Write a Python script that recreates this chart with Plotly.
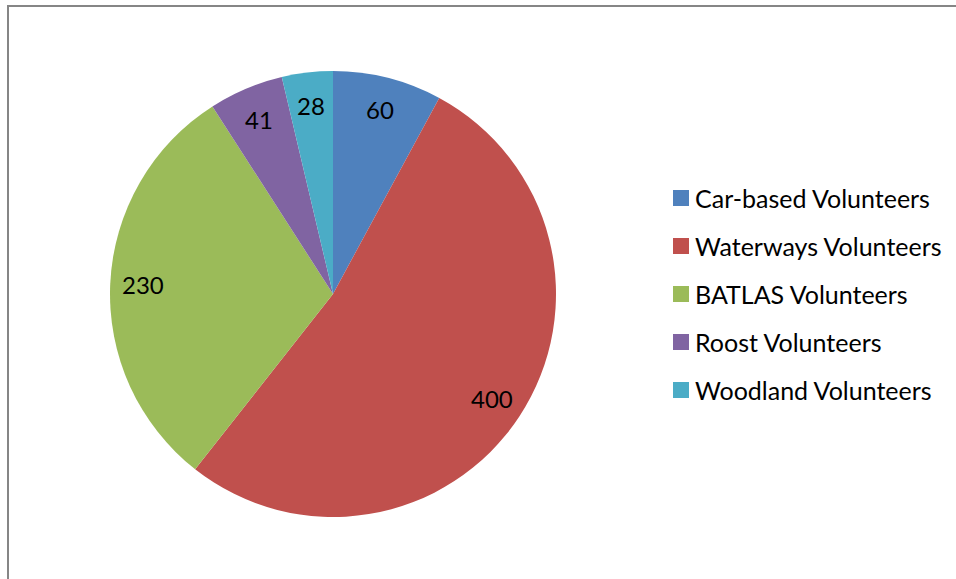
import math
import plotly.graph_objects as go

# Volunteer counts by survey scheme
categories = [
    "Car-based Volunteers",
    "Waterways Volunteers",
    "BATLAS Volunteers",
    "Roost Volunteers",
    "Woodland Volunteers",
]
values = [60, 400, 230, 41, 28]
colors = ["#4F81BD", "#C0504D", "#9BBB59", "#8064A2", "#4BACC6"]

W, H = 956, 579
FONT = "Lato, Carlito, Calibri, sans-serif"

# pie geometry in pixels
cx, cy, r = 333, 294, 223
label_r = 190

fig = go.Figure(
    go.Pie(
        labels=categories,
        values=values,
        marker=dict(colors=colors, line=dict(width=0)),
        sort=False,
        direction="clockwise",
        rotation=0,
        textinfo="none",
        hoverinfo="label+value",
        showlegend=False,
        domain=dict(
            x=[(cx - r) / W, (cx + r) / W],
            y=[1 - (cy + r) / H, 1 - (cy - r) / H],
        ),
    )
)

annotations = []
total = sum(values)
acc = 0
for v in values:
    mid = (acc + v / 2) / total * 2 * math.pi
    acc += v
    px = cx + label_r * math.sin(mid)
    py = cy - label_r * math.cos(mid)
    annotations.append(dict(
        x=px / W, y=1 - py / H, xref="paper", yref="paper",
        text=str(v), showarrow=False,
        font=dict(family=FONT, size=24, color="#000000"),
        xanchor="center", yanchor="middle",
    ))

# legend: colour swatches with labels
shapes = []
leg_x, leg_y0, leg_step, sw = 673, 198, 48, 16
for i, (name, col) in enumerate(zip(categories, colors)):
    yc = leg_y0 + i * leg_step
    shapes.append(dict(
        type="rect", xref="paper", yref="paper",
        x0=leg_x / W, x1=(leg_x + sw) / W,
        y0=1 - (yc - sw / 2) / H, y1=1 - (yc + sw / 2) / H,
        fillcolor=col, line=dict(width=0),
    ))
    annotations.append(dict(
        x=(leg_x + sw + 4) / W, y=1 - yc / H, xref="paper", yref="paper",
        text=name, showarrow=False,
        font=dict(family=FONT, size=25, color="#000000"),
        xanchor="left", yanchor="middle",
    ))

# chart-area frame
shapes.append(dict(
    type="rect", xref="paper", yref="paper",
    x0=8 / W, x1=1.05, y0=-0.05, y1=1 - 6 / H,
    line=dict(color="#868686", width=2), fillcolor="rgba(0,0,0,0)",
))

fig.update_layout(
    width=W, height=H,
    margin=dict(l=0, r=0, t=0, b=0),
    paper_bgcolor="white",
    plot_bgcolor="white",
    showlegend=False,
    shapes=shapes,
    annotations=annotations,
)

fig.write_html("out.html")
